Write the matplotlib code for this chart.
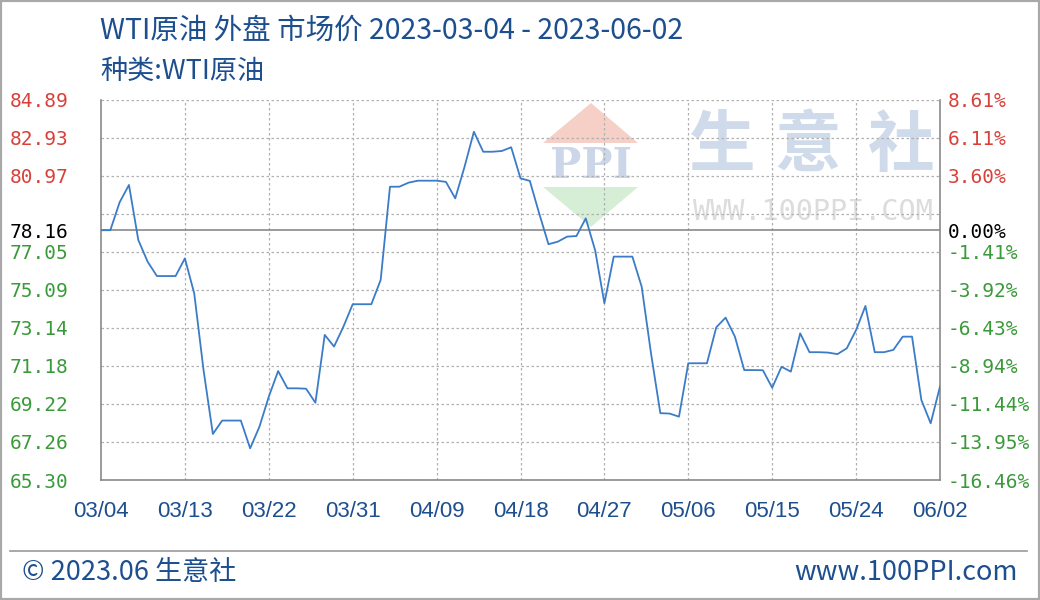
import numpy as np
import matplotlib
matplotlib.use("Agg")
import matplotlib.pyplot as plt
from matplotlib.patches import Polygon, Rectangle

# daily WTI values 2023-03-04 .. 2023-06-02
prices = [78.16, 78.16, 79.60, 80.49, 77.66, 76.54, 75.80, 75.80, 75.80, 76.71,
          74.91, 70.96, 67.67, 68.36, 68.36, 68.36, 66.93, 68.05, 69.59, 70.91,
          70.02, 70.02, 70.00, 69.28, 72.77, 72.17, 73.19, 74.35, 74.35, 74.35,
          75.60, 80.40, 80.40, 80.61, 80.71, 80.71, 80.71, 80.65, 79.80, 81.43,
          83.23, 82.20, 82.20, 82.24, 82.43, 80.83, 80.70, 79.03, 77.44, 77.57,
          77.83, 77.86, 78.77, 77.14, 74.40, 76.80, 76.80, 76.80, 75.25, 71.82,
          68.74, 68.72, 68.56, 71.31, 71.31, 71.31, 73.16, 73.66, 72.68, 70.96,
          70.96, 70.95, 70.05, 71.13, 70.88, 72.85, 71.88, 71.88, 71.86, 71.78,
          72.08, 73.02, 74.26, 71.88, 71.88, 72.00, 72.68, 72.68, 69.42, 68.22,
          70.11]
days = np.arange(len(prices))
base = 78.16

x_labels = ["03/04", "03/13", "03/22", "03/31", "04/09", "04/18",
            "04/27", "05/06", "05/15", "05/24", "06/02"]
x_ticks = np.arange(0, 91, 9)

grid_vals = [65.30, 67.26, 69.22, 71.18, 73.14, 75.09, 77.05, 79.01, 80.97, 82.93, 84.89]
left_vals = [65.30, 67.26, 69.22, 71.18, 73.14, 75.09, 77.05, 78.16, 80.97, 82.93, 84.89]
left_labels = ["65.30", "67.26", "69.22", "71.18", "73.14", "75.09", "77.05",
               "78.16", "80.97", "82.93", "84.89"]
right_labels = ["-16.46%", "-13.95%", "-11.44%", "-8.94%", "-6.43%", "-3.92%",
                "-1.41%", "0.00%", "3.60%", "6.11%", "8.61%"]

BLUE = "#1d4f8f"
LINE = "#3b7cc8"
RED = "#d9403a"
GREEN = "#3a9a3a"
GRID = "#b0b0b0"

plt.rcParams["font.family"] = ["Noto Sans CJK SC", "DejaVu Sans"]

W, H = 1040, 600
fig = plt.figure(figsize=(W / 100, H / 100), dpi=100)
fig.patch.set_facecolor("white")


def px(x, y):
    return x / W, 1 - y / H


# watermark (behind the axes)
tri_r = Polygon([px(543, 143), px(638, 143), px(591, 103)], closed=True,
                transform=fig.transFigure, facecolor="#f6d0c6", edgecolor="none", zorder=-2)
tri_g = Polygon([px(543, 187), px(638, 187), px(591, 227)], closed=True,
                transform=fig.transFigure, facecolor="#d6eed6", edgecolor="none", zorder=-2)
fig.patches.extend([tri_r, tri_g])
fig.text(*px(591, 166), "PPI", ha="center", va="center", fontsize=30, fontweight="bold",
         color="#cbd7e8", family="DejaVu Serif", zorder=-1)
for cx, ch in [(721, "生"), (808, "意"), (901, "社")]:
    fig.text(*px(cx, 146), ch, ha="center", va="center", fontsize=48, fontweight="bold",
             color="#cfdaea", zorder=-1)
fig.text(*px(813, 212), "WWW.100PPI.COM", ha="center", va="center", fontsize=20.5,
         color="#dcdcdc", family="DejaVu Sans Mono", zorder=-1)

ax = fig.add_axes([101 / W, 1 - 480 / H, 839 / W, 380.5 / H])
ax.patch.set_alpha(0)
ax.plot(days, prices, color=LINE, lw=1.3, zorder=3)
ax.set_xlim(0, 90)
ax.set_ylim(65.30, 84.89)

for v in grid_vals:
    ax.axhline(v, color=GRID, lw=0.9, ls=(0, (2, 2)), zorder=1)
for t in x_ticks[1:-1]:
    ax.axvline(t, color=GRID, lw=0.9, ls=(0, (2, 2)), zorder=1)
ax.axhline(base, color="#808080", lw=1.1, zorder=2)

for side in ["left", "bottom", "right"]:
    ax.spines[side].set_color("#8a8a8a")
    ax.spines[side].set_linewidth(1.2)
ax.spines["top"].set_visible(False)

ax.set_xticks(x_ticks)
ax.set_xticklabels(x_labels, color=BLUE, fontsize=16, family="Liberation Sans")
ax.tick_params(axis="x", length=0, pad=15)

ax.set_yticks(left_vals)
ax.set_yticklabels(left_labels, fontsize=14, family="DejaVu Sans Mono")
ax.tick_params(axis="y", length=0, pad=65.5)
for lab, v in zip(ax.get_yticklabels(), left_vals):
    lab.set_horizontalalignment("left")
    lab.set_color("black" if v == base else (RED if v > base else GREEN))

ax2 = ax.twinx()
ax2.set_ylim(ax.get_ylim())
ax2.set_yticks(left_vals)
ax2.set_yticklabels(right_labels, fontsize=14, family="DejaVu Sans Mono")
ax2.tick_params(axis="y", length=0, pad=5.8)
for lab, v in zip(ax2.get_yticklabels(), left_vals):
    lab.set_color("black" if v == base else (RED if v > base else GREEN))
for s in ax2.spines.values():
    s.set_visible(False)

# header and footer
fig.text(*px(100, 31), "WTI原油 外盘 市场价 2023-03-04 - 2023-06-02", ha="left", va="center",
         fontsize=20.5, color=BLUE)
fig.text(*px(100, 71), "种类:WTI原油", ha="left", va="center", fontsize=19.5, color=BLUE)
fig.add_artist(plt.Line2D([10 / W, 1027 / W], [1 - 551 / H] * 2, color="#9a9a9a", lw=1.2))
fig.text(*px(22, 572), "© 2023.06 生意社", ha="left", va="center", fontsize=19.5, color=BLUE)
fig.text(*px(1018, 572), "www.100PPI.com", ha="right", va="center", fontsize=19.5, color=BLUE)
fig.patches.append(Rectangle((0, 0), 1, 1, transform=fig.transFigure, fill=False,
                             edgecolor="#a8a8a8", lw=3))

fig.savefig("out.png", dpi=100)
